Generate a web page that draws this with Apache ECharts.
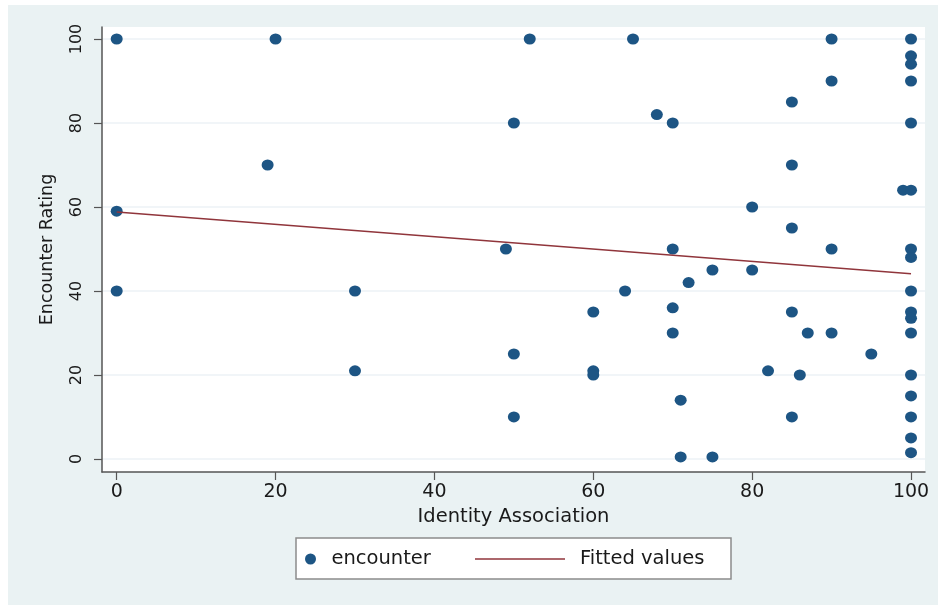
<!DOCTYPE html>
<html>
<head>
<meta charset="utf-8">
<script src="https://cdn.jsdelivr.net/npm/echarts@6/dist/echarts.min.js"></script>
<style>
html,body{margin:0;padding:0;background:#fff;}
#chart{width:938px;height:605px;}
</style>
</head>
<body>
<div id="chart"></div>
<script>
// Identity Association (x) and Encounter Rating (y) for each observation
const identityAssociation = [0, 20, 19, 0, 0, 30, 30, 52, 65, 90, 100, 100, 100, 90, 100, 85, 68, 50, 70, 100,
  85, 99, 100, 80, 85, 49, 70, 90, 100, 100, 75, 80, 72, 64, 100, 60, 70, 85, 100, 100,
  70, 87, 90, 100, 50, 95, 60, 60, 82, 86, 100, 71, 100, 50, 85, 100, 100, 71, 75, 100];
const encounterRating = [100, 100, 70, 59, 40, 40, 21, 100, 100, 100, 100, 96, 94, 90, 90, 85, 82, 80, 80, 80,
  70, 64, 64, 60, 55, 50, 50, 50, 50, 48, 45, 45, 42, 40, 40, 35, 36, 35, 35, 33.5,
  30, 30, 30, 30, 25, 25, 21, 20, 21, 20, 20, 14, 15, 10, 10, 10, 5, 0.5, 0.5, 1.5];
// Fitted values (linear fit) endpoints
const fittedX = [0, 100];
const fittedY = [58.8, 44.1];
// Tick labels
const xTicks = [0, 20, 40, 60, 80, 100];
const yTicks = [0, 20, 40, 60, 80, 100];

const scatterData = identityAssociation.map((x, i) => [x, encounterRating[i]]);
const fitData = fittedX.map((x, i) => [x, fittedY[i]]);

const FONT = 'DejaVu Sans';
const chart = echarts.init(document.getElementById('chart'), null, {renderer: 'canvas'});
chart.setOption({
  backgroundColor: '#ffffff',
  animation: false,
  textStyle: {fontFamily: FONT},
  graphic: [
    {type: 'rect', z: -100, shape: {x: 8, y: 5, width: 930, height: 600}, style: {fill: '#eaf2f3'}},
    {type: 'rect', z: -50, shape: {x: 296, y: 538, width: 435, height: 41}, style: {fill: '#ffffff', stroke: '#8c8c8c', lineWidth: 1.5}}
  ],
  grid: {
    left: 102, top: 27, width: 823, height: 445,
    show: true, backgroundColor: '#ffffff', borderWidth: 0
  },
  legend: [
    {
      data: ['encounter'], left: 305, top: 547, padding: 0,
      icon: 'circle', itemWidth: 12, itemHeight: 11,
      textStyle: {fontFamily: FONT, fontSize: 19.5, color: '#1a1a1a', lineHeight: 24, padding: [0, 0, 0, 10]}
    },
    {
      data: [{name: 'Fitted values', icon: 'rect'}], left: 475, top: 547, padding: 0,
      itemWidth: 90, itemHeight: 1.6,
      textStyle: {fontFamily: FONT, fontSize: 19.5, color: '#1a1a1a', lineHeight: 24, padding: [0, 0, 0, 10]}
    }
  ],
  xAxis: {
    type: 'value', min: -1.85, max: 101.76,
    name: 'Identity Association', nameLocation: 'middle', nameGap: 34,
    nameTextStyle: {fontFamily: FONT, fontSize: 19.5, color: '#1a1a1a'},
    axisLine: {show: true, onZero: false, lineStyle: {color: '#555555', width: 1.5}},
    axisTick: {show: true, length: 8, customValues: xTicks, lineStyle: {color: '#555555', width: 1.2}},
    axisLabel: {customValues: xTicks, margin: 11, fontFamily: FONT, fontSize: 19, color: '#1a1a1a'},
    splitLine: {show: false}
  },
  yAxis: {
    type: 'value', min: -3.1, max: 102.86,
    name: 'Encounter Rating', nameLocation: 'middle', nameGap: 46, nameRotate: 90,
    nameTextStyle: {fontFamily: FONT, fontSize: 17.5, color: '#1a1a1a'},
    axisLine: {show: true, onZero: false, lineStyle: {color: '#555555', width: 1.5}},
    axisTick: {show: true, length: 8, customValues: yTicks, lineStyle: {color: '#555555', width: 1.2}},
    axisLabel: {customValues: yTicks, rotate: 90, margin: 17, fontFamily: FONT, fontSize: 16, color: '#1a1a1a'},
    splitLine: {show: true, lineStyle: {color: '#edf2f6', width: 1.5}}
  },
  series: [
    {
      name: 'encounter', type: 'scatter', data: scatterData,
      symbol: 'circle', symbolSize: [12, 11],
      itemStyle: {color: '#1d5584', opacity: 1}
    },
    {
      name: 'Fitted values', type: 'line', data: fitData,
      symbol: 'none', showSymbol: false,
      itemStyle: {color: '#90353b'},
      lineStyle: {color: '#90353b', width: 1.5}
    }
  ]
});
</script>
</body>
</html>
